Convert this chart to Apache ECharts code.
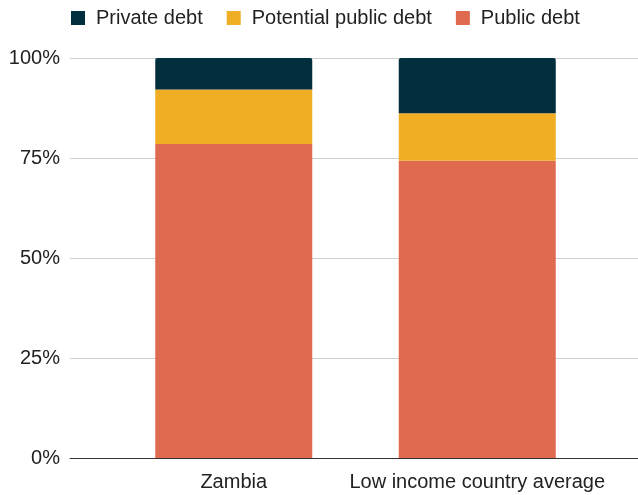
<!DOCTYPE html>
<html><head><meta charset="utf-8">
<script src="https://cdn.jsdelivr.net/npm/echarts@6/dist/echarts.min.js"></script>
<style>html,body{margin:0;padding:0;background:#fff}#c{width:638px;height:495px}</style>
</head><body><div id="c"></div>
<script>
const categories = ['Zambia', 'Low income country average'];
const publicDebt = [78.5, 74.3];
const potentialPublicDebt = [13.6, 11.9];
const privateDebt = [7.9, 13.8];
const yTicks = [0, 25, 50, 75, 100];

const chart = echarts.init(document.getElementById('c'), null, {renderer: 'canvas'});
const font = 'Liberation Sans, Arial, sans-serif';
chart.setOption({
  animation: false,
  textStyle: {fontFamily: font},
  legend: {
    left: 66, top: 3, itemWidth: 14, itemHeight: 14, itemGap: 24,
    icon: 'rect',
    data: ['Private debt', 'Potential public debt', 'Public debt'],
    textStyle: {fontSize: 20, color: '#222', fontFamily: font, padding: [0, 0, 0, 6]}
  },
  grid: [
    {left: 70, right: 0, top: 58, bottom: 37},
    {left: 112, right: 39, top: 58, bottom: 37}
  ],
  xAxis: [
    {gridIndex: 0, type: 'category', data: categories, axisLine: {lineStyle: {color: '#333', width: 1}},
     axisTick: {show: false}, axisLabel: {show: false}, z: 10},
    {gridIndex: 1, type: 'category', data: categories, axisLine: {show: false}, axisTick: {show: false},
     axisLabel: {interval: 0, fontSize: 20, color: '#222', margin: 14, fontFamily: font}}
  ],
  yAxis: [
    {gridIndex: 0, type: 'value', min: yTicks[0], max: yTicks[yTicks.length - 1], interval: 25,
     axisLabel: {formatter: '{value}%', fontSize: 20, color: '#222', margin: 10, fontFamily: font},
     splitLine: {lineStyle: {color: '#cfcfcf', width: 1}}, axisLine: {show: false}, axisTick: {show: false}},
    {gridIndex: 1, type: 'value', min: 0, max: 100, show: false, splitLine: {show: false}}
  ],
  series: [
    {name: 'Public debt', type: 'bar', stack: 's', xAxisIndex: 1, yAxisIndex: 1, data: publicDebt,
     barWidth: 157, itemStyle: {color: '#e06a50'}},
    {name: 'Potential public debt', type: 'bar', stack: 's', xAxisIndex: 1, yAxisIndex: 1, data: potentialPublicDebt,
     barWidth: 157, itemStyle: {color: '#efae23'}},
    {name: 'Private debt', type: 'bar', stack: 's', xAxisIndex: 1, yAxisIndex: 1, data: privateDebt,
     barWidth: 157, itemStyle: {color: '#022f3d', borderRadius: [2, 2, 0, 0]}}
  ]
});
</script></body></html>
